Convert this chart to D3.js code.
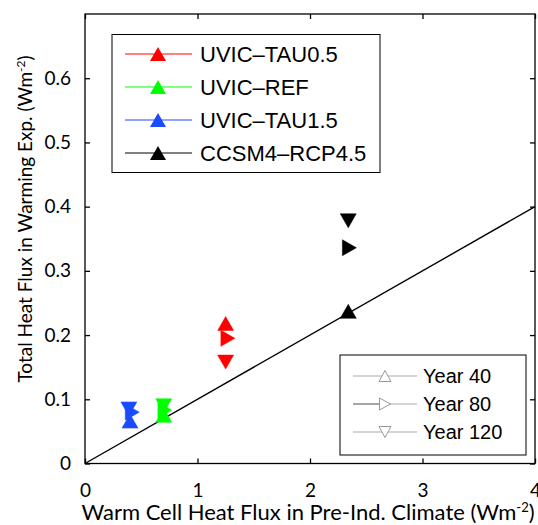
<!DOCTYPE html>
<html>
<head>
<meta charset="utf-8">
<script src="https://cdn.jsdelivr.net/npm/d3@7"></script>
<style>
  body { margin: 0; background: #fff; }
  svg { display: block; }
</style>
</head>
<body>
<script>
const width = 538;
const height = 525;

// data
const models = ["UVIC–TAU0.5", "UVIC–REF", "UVIC–TAU1.5", "CCSM4–RCP4.5"];
const modelColors = ["#ff0000", "#00ff00", "#1a4bff", "#000000"];
const years = ["Year 40", "Year 80", "Year 120"];
const yearShapes = ["up", "right", "down"];
// x: warm cell heat flux in pre-industrial climate, one value per year
const warmFlux = [
    [1.25, 1.27, 1.25],
    [0.70, 0.71, 0.70],
    [0.40, 0.42, 0.39],
    [2.34, 2.35, 2.34]
];
// y: total heat flux in warming experiment
const totalFlux = [
    [0.218, 0.195, 0.158],
    [0.075, 0.083, 0.090],
    [0.066, 0.080, 0.085],
    [0.237, 0.336, 0.378]
];
const refX = [0, 4];
const refY = [0, 0.4];
const xTicks = [0, 1, 2, 3, 4];
const yTicks = [0, 0.1, 0.2, 0.3, 0.4, 0.5, 0.6];

const margin = { top: 14, right: 3, bottom: 61.5, left: 85 };
const plotW = width - margin.left - margin.right;
const plotH = height - margin.top - margin.bottom;

const x = d3.scaleLinear().domain([0, 4]).range([0, plotW]);
const y = d3.scaleLinear().domain([0, 0.7]).range([plotH, 0]);

function triangle(shape, w, h) {
    // points for an "up" triangle, rotated for other shapes
    let pts = [[0, -h], [w, h], [-w, h]];
    if (shape === "down") pts = pts.map(([a, b]) => [a, -b]);
    if (shape === "right") pts = [[h, 0], [-h, -w], [-h, w]];
    return "M" + pts.map(p => p.join(",")).join("L") + "Z";
}

const svg = d3.select(document.body).append("svg")
    .attr("width", width)
    .attr("height", height);

const g = svg.append("g")
    .attr("transform", `translate(${margin.left},${margin.top})`);

// axes, ticks inward
const tickFont = "Lato, 'Open Sans', sans-serif";
g.append("g")
    .attr("transform", `translate(0,${plotH})`)
    .call(d3.axisBottom(x).tickValues(xTicks).tickSize(-5).tickPadding(20).tickFormat(d3.format("d")));
g.append("g")
    .call(d3.axisLeft(y).tickValues(yTicks).tickSize(-5).tickPadding(14)
        .tickFormat(d => d === 0 ? "0" : d3.format(".1f")(d)));
g.append("g")
    .call(d3.axisTop(x).tickValues(xTicks).tickSize(-5).tickFormat(""));
g.append("g")
    .attr("transform", `translate(${plotW},0)`)
    .call(d3.axisRight(y).tickValues(yTicks).tickSize(-5).tickFormat(""));

svg.selectAll(".domain").remove();
svg.selectAll(".tick line").attr("stroke", "#000").attr("stroke-width", 1.3);
svg.selectAll(".tick text")
    .attr("fill", "#000")
    .style("font-family", tickFont)
    .style("font-size", "19px");

g.append("rect")
    .attr("width", plotW)
    .attr("height", plotH)
    .attr("fill", "none")
    .attr("stroke", "#000")
    .attr("stroke-width", 1.3);

// reference line
g.append("line")
    .attr("x1", x(refX[0])).attr("y1", y(refY[0]))
    .attr("x2", x(refX[1])).attr("y2", y(refY[1]))
    .attr("stroke", "#000")
    .attr("stroke-width", 1.4);

// data markers
models.forEach((m, i) => {
    g.append("g")
        .selectAll("path")
        .data(years.map((yr, j) => ({ x: warmFlux[i][j], y: totalFlux[i][j], shape: yearShapes[j] })))
        .join("path")
        .attr("transform", d => `translate(${x(d.x)},${y(d.y)})`)
        .attr("d", d => triangle(d.shape, 8, 7))
        .attr("fill", modelColors[i])
        .attr("stroke", modelColors[i])
        .attr("stroke-width", 0.5);
});

// axis labels
svg.append("text")
    .attr("x", 308)
    .attr("y", 520)
    .attr("text-anchor", "middle")
    .style("font-family", tickFont)
    .style("font-size", "22px")
    .call(t => {
        t.append("tspan").text("Warm Cell Heat Flux in Pre-Ind. Climate (Wm");
        t.append("tspan").attr("dy", -8).style("font-size", "13px").text("-2");
        t.append("tspan").attr("dy", 8).text(")");
    });

svg.append("text")
    .attr("transform", "translate(32,219) rotate(-90)")
    .attr("text-anchor", "middle")
    .style("font-family", tickFont)
    .style("font-size", "19px")
    .call(t => {
        t.append("tspan").text("Total Heat Flux in Warming Exp. (Wm");
        t.append("tspan").attr("dy", -7).style("font-size", "12px").text("-2");
        t.append("tspan").attr("dy", 7).text(")");
    });

// model legend
const legendFont = "'Liberation Sans', Arial, Helvetica, sans-serif";
const leg1 = svg.append("g");
leg1.append("rect")
    .attr("x", 112).attr("y", 34.5)
    .attr("width", 268).attr("height", 138)
    .attr("fill", "#fff").attr("stroke", "#000").attr("stroke-width", 1);
const leg1Y = d3.scalePoint().domain(models).range([54, 153]);
models.forEach((m, i) => {
    const yy = leg1Y(m);
    leg1.append("line")
        .attr("x1", 125).attr("x2", 192).attr("y1", yy).attr("y2", yy)
        .attr("stroke", modelColors[i]).attr("stroke-width", 1);
    leg1.append("path")
        .attr("transform", `translate(158,${yy})`)
        .attr("d", triangle("up", 8, 7))
        .attr("fill", modelColors[i]);
    leg1.append("text")
        .attr("x", 200).attr("y", yy)
        .attr("dominant-baseline", "central")
        .style("font-family", legendFont)
        .style("font-size", "22px")
        .text(m);
});

// year legend
const leg2 = svg.append("g");
leg2.append("rect")
    .attr("x", 340).attr("y", 355)
    .attr("width", 186).attr("height", 100)
    .attr("fill", "#fff").attr("stroke", "#000").attr("stroke-width", 1);
const leg2Y = d3.scalePoint().domain(years).range([376, 432]);
years.forEach((yr, j) => {
    const yy = leg2Y(yr);
    leg2.append("line")
        .attr("x1", 353).attr("x2", 417).attr("y1", yy).attr("y2", yy)
        .attr("stroke", "#aaa").attr("stroke-width", 1);
    if (j === 1) {
        leg2.append("line")
            .attr("x1", 353).attr("x2", 380).attr("y1", yy).attr("y2", yy)
            .attr("stroke", "#777").attr("stroke-width", 1);
    }
    leg2.append("path")
        .attr("transform", `translate(385,${yy})`)
        .attr("d", triangle(yearShapes[j], 6, 5.5))
        .attr("fill", "#fff")
        .attr("stroke", "#999")
        .attr("stroke-width", 1);
    leg2.append("text")
        .attr("x", 423).attr("y", yy)
        .attr("dominant-baseline", "central")
        .style("font-family", legendFont)
        .style("font-size", "20px")
        .text(yr);
});
</script>
</body>
</html>
